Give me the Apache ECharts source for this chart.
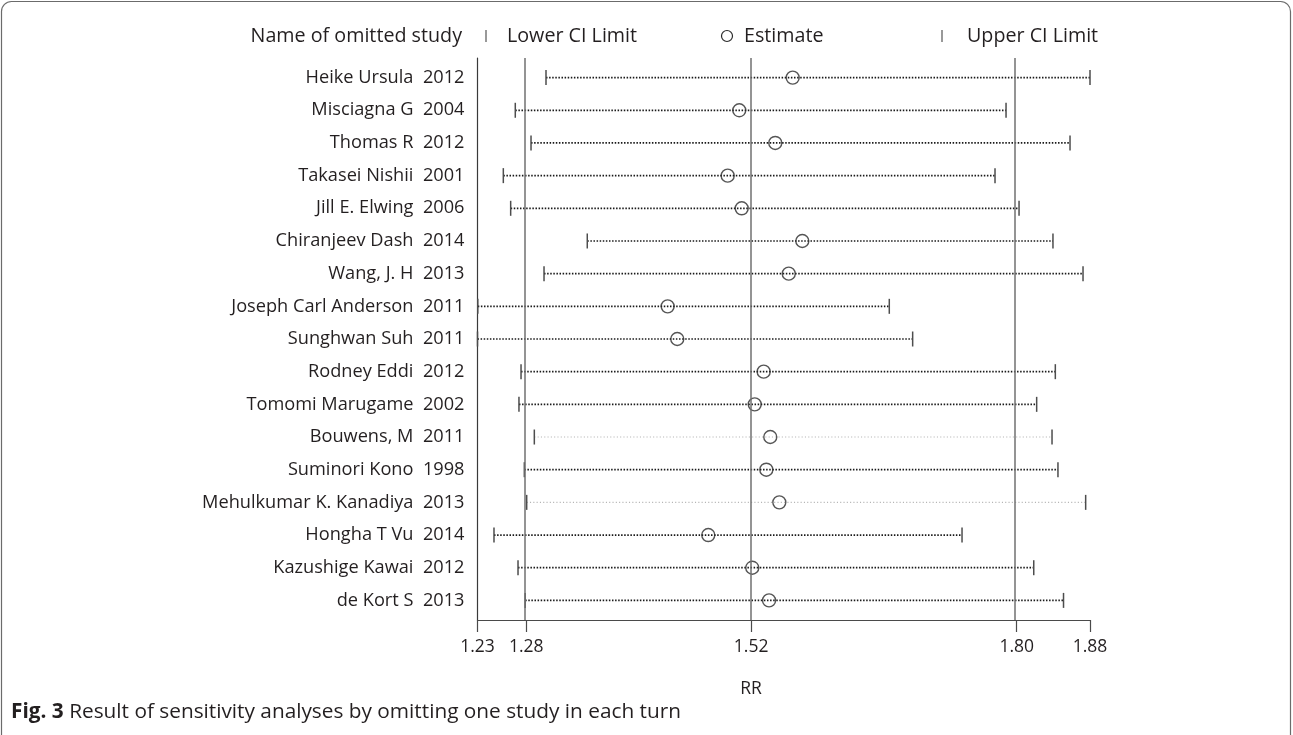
<!DOCTYPE html>
<html>
<head>
<meta charset="utf-8">
<title>Sensitivity analysis – omitting one study at a time</title>
<script src="https://cdn.jsdelivr.net/npm/echarts@6/dist/echarts.min.js"></script>
<style>
  html, body { margin: 0; padding: 0; background: #ffffff; }
  #chart { width: 1293px; height: 735px; }
</style>
</head>
<body>
<div id="chart"></div>
<script>
// Omitted study for each row (top to bottom)
const studies = [
  'Heike Ursula  2012',
  'Misciagna G  2004',
  'Thomas R  2012',
  'Takasei Nishii  2001',
  'Jill E. Elwing  2006',
  'Chiranjeev Dash  2014',
  'Wang, J. H  2013',
  'Joseph Carl Anderson  2011',
  'Sunghwan Suh  2011',
  'Rodney Eddi  2012',
  'Tomomi Marugame  2002',
  'Bouwens, M  2011',
  'Suminori Kono  1998',
  'Mehulkumar K. Kanadiya  2013',
  'Hongha T Vu  2014',
  'Kazushige Kawai  2012',
  'de Kort S  2013'
];

// Pooled RR with each study left out, and its 95% CI
const estimate = [1.5645, 1.5078, 1.5460, 1.4955, 1.5104, 1.5747, 1.5603, 1.4318, 1.4420,
                  1.5337, 1.5242, 1.5407, 1.5365, 1.5503, 1.4749, 1.5216, 1.5394];
const lowerCI  = [1.3027, 1.2701, 1.2868, 1.2574, 1.2652, 1.3465, 1.3006, 1.2303, 1.2300,
                  1.2762, 1.2740, 1.2903, 1.2797, 1.2822, 1.2475, 1.2730, 1.2806];
const upperCI  = [1.8800, 1.7909, 1.8588, 1.7792, 1.8047, 1.8407, 1.8726, 1.6670, 1.6918,
                  1.8432, 1.8234, 1.8397, 1.8460, 1.8754, 1.7442, 1.8203, 1.8519];

// Overall pooled estimate: lower limit, estimate, upper limit
const overallLimits = [1.2818, 1.5204, 1.8022];

// Axis range and labelled positions
const axisRange = [1.23, 1.88];
const axisTicks = [1.23, 1.2818, 1.5204, 1.8022, 1.88];

// Rows whose CI line is drawn in a lighter grey
const lightRows = ['Bouwens, M  2011', 'Mehulkumar K. Kanadiya  2013'];

const FONT = '"Open Sans", "Noto Sans", sans-serif';
const INK = '#231f20';

const ciData = studies.map((s, i) => [lowerCI[i], upperCI[i], i]);
const estData = studies.map((s, i) => [estimate[i], i]);

const chart = echarts.init(document.getElementById('chart'), null, { renderer: 'canvas' });

chart.setOption({
  animation: false,
  backgroundColor: '#ffffff',
  textStyle: { fontFamily: FONT, color: INK },
  grid: { left: 477.5, right: 203, top: 58, bottom: 115, containLabel: false },
  xAxis: {
    type: 'value',
    min: axisRange[0],
    max: axisRange[1],
    axisLine: { show: true, onZero: false, lineStyle: { color: '#4a4a4a', width: 1.2 } },
    axisTick: { show: true, customValues: axisTicks, length: 12, lineStyle: { color: '#4a4a4a', width: 1.2 } },
    axisLabel: {
      customValues: axisTicks,
      formatter: v => v.toFixed(2),
      fontSize: 17.5, color: INK, fontFamily: FONT, margin: 18
    },
    splitLine: { show: false }
  },
  yAxis: {
    type: 'value',
    inverse: true,
    min: -0.6,
    max: 16.6,
    axisLine: { show: true, onZero: false, lineStyle: { color: '#3a3a3a', width: 1.2 } },
    axisTick: { show: false },
    axisLabel: {
      customValues: studies.map((s, i) => i),
      formatter: v => studies[Math.round(v)] || '',
      fontSize: 18.2, color: INK, fontFamily: FONT, margin: 13
    },
    splitLine: { show: false }
  },
  series: [
    {
      name: 'CI',
      type: 'custom',
      data: ciData,
      encode: { x: [0, 1], y: 2 },
      z: 2,
      renderItem: function (params, api) {
        const row = api.value(2);
        const lo = api.coord([api.value(0), row]);
        const hi = api.coord([api.value(1), row]);
        const light = lightRows.indexOf(studies[row]) >= 0;
        const half = 7.5;
        return {
          type: 'group',
          children: [
            {
              type: 'line',
              shape: { x1: lo[0], y1: lo[1], x2: hi[0], y2: hi[1] },
              style: {
                stroke: light ? '#b5b5b5' : '#1a1a1a',
                lineWidth: light ? 1.2 : 1.7,
                lineDash: light ? [1.1, 2.2] : [1.5, 1.6]
              }
            },
            {
              type: 'line',
              shape: { x1: lo[0], y1: lo[1] - half, x2: lo[0], y2: lo[1] + half },
              style: { stroke: '#4d4d4d', lineWidth: 1.5 }
            },
            {
              type: 'line',
              shape: { x1: hi[0], y1: hi[1] - half, x2: hi[0], y2: hi[1] + half },
              style: { stroke: '#4d4d4d', lineWidth: 1.5 }
            }
          ]
        };
      }
    },
    {
      name: 'Estimate',
      type: 'scatter',
      data: estData,
      symbol: 'circle',
      symbolSize: 13,
      z: 3,
      itemStyle: { color: 'rgba(0,0,0,0)', borderColor: '#2a2a2a', borderWidth: 1.4 },
      markLine: {
        silent: true,
        symbol: 'none',
        label: { show: false },
        lineStyle: { color: '#707070', width: 1.5, type: 'solid' },
        data: overallLimits.map(v => ({ xAxis: v }))
      }
    }
  ],
  graphic: [
    // frame around the figure
    {
      type: 'rect',
      shape: { x: 1.5, y: 1.5, width: 1289, height: 745, r: 10 },
      style: { fill: 'none', stroke: '#6b6b6b', lineWidth: 1.2 },
      silent: true
    },
    // key row
    {
      type: 'text', x: 462, y: 36,
      style: { text: 'Name of omitted study', font: '19.7px ' + FONT, fill: INK, align: 'right', verticalAlign: 'middle' }
    },
    { type: 'line', shape: { x1: 486, y1: 30, x2: 486, y2: 42 }, style: { stroke: '#555', lineWidth: 1.2 } },
    {
      type: 'text', x: 507, y: 36,
      style: { text: 'Lower CI Limit', font: '19.7px ' + FONT, fill: INK, align: 'left', verticalAlign: 'middle' }
    },
    { type: 'circle', shape: { cx: 727, cy: 36, r: 5.5 }, style: { fill: 'none', stroke: '#2a2a2a', lineWidth: 1.2 } },
    {
      type: 'text', x: 744, y: 36,
      style: { text: 'Estimate', font: '19.7px ' + FONT, fill: INK, align: 'left', verticalAlign: 'middle' }
    },
    { type: 'line', shape: { x1: 942, y1: 30, x2: 942, y2: 42 }, style: { stroke: '#555', lineWidth: 1.2 } },
    {
      type: 'text', x: 967, y: 36,
      style: { text: 'Upper CI Limit', font: '19.7px ' + FONT, fill: INK, align: 'left', verticalAlign: 'middle' }
    },
    // x-axis title
    {
      type: 'text', x: 751, y: 689,
      style: { text: 'RR', font: '17.5px ' + FONT, fill: INK, align: 'center', verticalAlign: 'middle' }
    },
    // caption
    {
      type: 'text', x: 11, y: 712,
      style: {
        text: '{b|Fig. 3} Result of sensitivity analyses by omitting one study in each turn',
        font: '20.8px ' + FONT, fill: INK, verticalAlign: 'middle',
        rich: {
          b: { font: 'bold 20.8px ' + FONT, fill: INK }
        }
      }
    }
  ]
});
</script>
</body>
</html>
